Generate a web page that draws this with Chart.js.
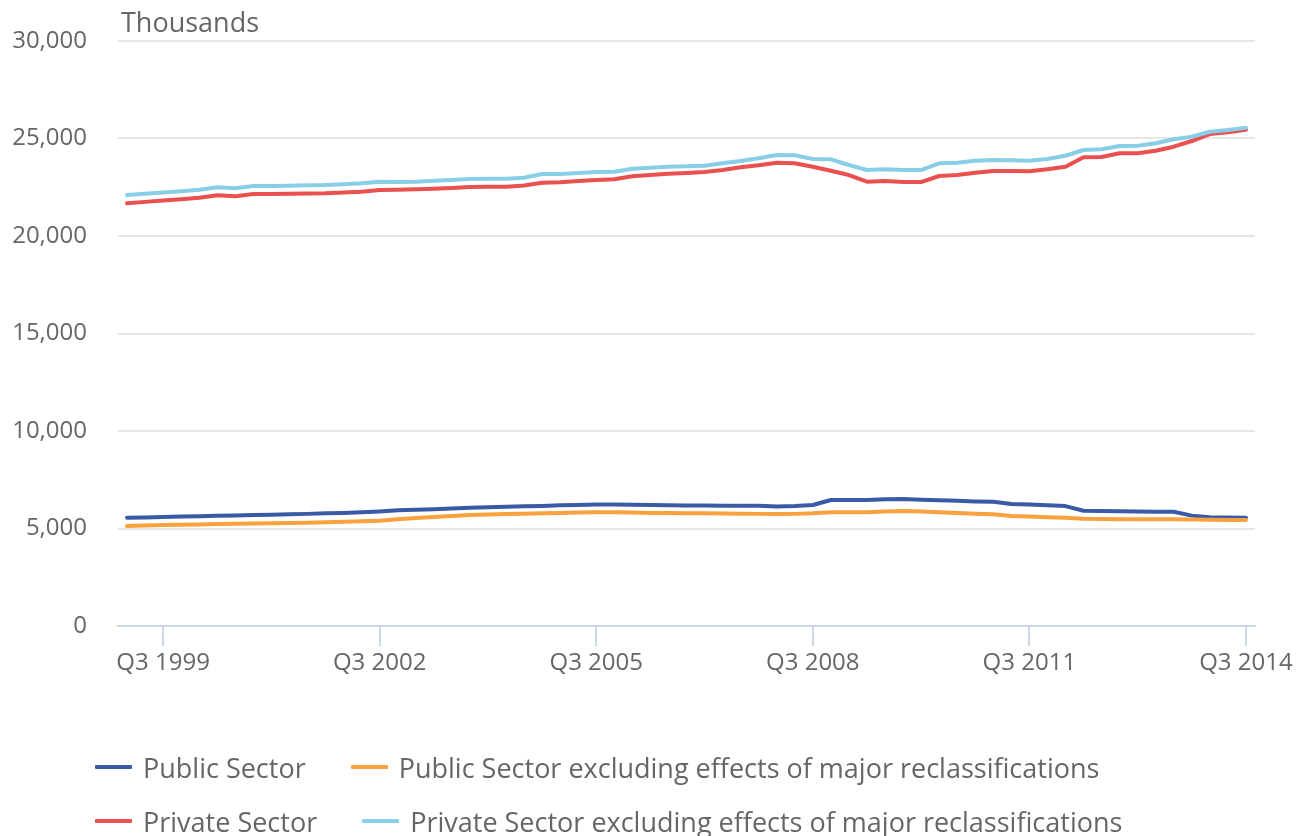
<!DOCTYPE html>
<html>
<head>
<meta charset="utf-8">
<title>Public and private sector employment</title>
<script src="https://cdn.jsdelivr.net/npm/chart.js@4"></script>
<style>
  body { margin: 0; background: #fff; }
  #wrap { position: relative; width: 1296px; height: 836px; }
  #chart { position: absolute; left: 0; top: 0; }
  .legend-row { position: absolute; left: 95px; height: 30px; display: flex; align-items: center;
    font-family: "Open Sans", sans-serif; font-size: 27px; color: #666; white-space: nowrap; }
  .legend-item { display: flex; align-items: center; margin-right: 45px; }
  .legend-line { display: inline-block; width: 37px; height: 4px; margin-right: 11px; border-radius: 1px; }
</style>
</head>
<body>
<div id="wrap">
  <canvas id="chart" width="1296" height="836"></canvas>
  <div class="legend-row" id="row1" style="top:752px"></div>
  <div class="legend-row" id="row2" style="top:806px"></div>
</div>
<script>
const quarters = [
  'Q1 1999', 'Q2 1999', 'Q3 1999', 'Q4 1999',
  'Q1 2000', 'Q2 2000', 'Q3 2000', 'Q4 2000',
  'Q1 2001', 'Q2 2001', 'Q3 2001', 'Q4 2001',
  'Q1 2002', 'Q2 2002', 'Q3 2002', 'Q4 2002',
  'Q1 2003', 'Q2 2003', 'Q3 2003', 'Q4 2003',
  'Q1 2004', 'Q2 2004', 'Q3 2004', 'Q4 2004',
  'Q1 2005', 'Q2 2005', 'Q3 2005', 'Q4 2005',
  'Q1 2006', 'Q2 2006', 'Q3 2006', 'Q4 2006',
  'Q1 2007', 'Q2 2007', 'Q3 2007', 'Q4 2007',
  'Q1 2008', 'Q2 2008', 'Q3 2008', 'Q4 2008',
  'Q1 2009', 'Q2 2009', 'Q3 2009', 'Q4 2009',
  'Q1 2010', 'Q2 2010', 'Q3 2010', 'Q4 2010',
  'Q1 2011', 'Q2 2011', 'Q3 2011', 'Q4 2011',
  'Q1 2012', 'Q2 2012', 'Q3 2012', 'Q4 2012',
  'Q1 2013', 'Q2 2013', 'Q3 2013', 'Q4 2013',
  'Q1 2014', 'Q2 2014', 'Q3 2014'
];

// labelled quarters on the x axis
const xTickLabels = ['Q3 1999', 'Q3 2002', 'Q3 2005', 'Q3 2008', 'Q3 2011', 'Q3 2014'];
const yTicks = [0, 5000, 10000, 15000, 20000, 25000, 30000];

// employment, thousands
const publicSector = [
  5554, 5570, 5590, 5610, 5630, 5650, 5670, 5690, 5710, 5730, 5750, 5779,
  5800, 5830, 5870, 5930, 5960, 5990, 6025, 6060, 6090, 6110, 6140, 6160,
  6190, 6210, 6230, 6230, 6215, 6200, 6190, 6180, 6175, 6170, 6170, 6169,
  6130, 6150, 6205, 6461, 6461, 6461, 6500, 6510, 6480, 6455, 6420, 6390,
  6370, 6260, 6225, 6190, 6150, 5910, 5895, 5880, 5870, 5860, 5860, 5660,
  5575, 5560, 5555
];
const publicExReclass = [
  5128, 5150, 5179, 5195, 5210, 5225, 5240, 5255, 5270, 5285, 5300, 5318,
  5340, 5370, 5400, 5480, 5540, 5590, 5640, 5690, 5720, 5740, 5760, 5779,
  5800, 5820, 5830, 5830, 5815, 5800, 5790, 5785, 5779, 5770, 5760, 5750,
  5743, 5750, 5779, 5830, 5830, 5830, 5870, 5897, 5870, 5830, 5790, 5760,
  5728, 5641, 5610, 5580, 5554, 5502, 5490, 5480, 5475, 5472, 5472, 5460,
  5450, 5440, 5436
];
const privateSector = [
  21676, 21750, 21820, 21880, 21960, 22086, 22035, 22153, 22160, 22170, 22180, 22188,
  22230, 22271, 22358, 22370, 22394, 22425, 22460, 22512, 22527, 22527, 22589, 22733,
  22753, 22820, 22871, 22907, 23061, 23128, 23194, 23230, 23281, 23384, 23522, 23625,
  23758, 23728, 23553, 23348, 23128, 22784, 22820, 22768, 22768, 23076, 23128, 23246,
  23333, 23333, 23317, 23420, 23553, 24035, 24050, 24240, 24240, 24374, 24579, 24871,
  25230, 25317, 25450
];
const privateExReclass = [
  22100, 22170, 22230, 22290, 22370, 22497, 22446, 22560, 22570, 22580, 22600, 22615,
  22660, 22700, 22785, 22770, 22785, 22836, 22870, 22922, 22937, 22937, 22989, 23179,
  23179, 23230, 23281, 23297, 23451, 23502, 23553, 23574, 23605, 23728, 23846, 23984,
  24153, 24138, 23948, 23932, 23640, 23384, 23420, 23384, 23384, 23728, 23758, 23861,
  23897, 23881, 23861, 23948, 24117, 24409, 24445, 24614, 24630, 24753, 24958, 25091,
  25348, 25435, 25553
];

const seriesNames = [
  'Public Sector',
  'Public Sector excluding effects of major reclassifications',
  'Private Sector',
  'Private Sector excluding effects of major reclassifications'
];
const seriesColors = ['#3a5aa5', '#f9a03f', '#e9504f', '#87cee6'];
const seriesValues = [publicSector, publicExReclass, privateSector, privateExReclass];

const font = '"Open Sans", sans-serif';
const textColor = '#666666';
const tickIndex = xTickLabels.map(q => quarters.indexOf(q));

const datasets = seriesValues.map((values, k) => ({
  label: seriesNames[k],
  data: values.map((v, i) => ({ x: i, y: v })),
  borderColor: seriesColors[k],
  backgroundColor: seriesColors[k],
  borderWidth: 4,
  pointRadius: 0,
  tension: 0,
  borderJoinStyle: 'round',
  borderCapStyle: 'round',
  order: 4 - k   // later series sit on top
}));

// unit caption above the plot
const unitLabel = {
  id: 'unitLabel',
  afterDraw(chart) {
    const { ctx, chartArea } = chart;
    ctx.save();
    ctx.font = '27px ' + font;
    ctx.fillStyle = textColor;
    ctx.textBaseline = 'alphabetic';
    ctx.textAlign = 'left';
    ctx.fillText('Thousands', chartArea.left + 3, 32);
    ctx.restore();
  }
};

const chart = new Chart(document.getElementById('chart'), {
  type: 'line',
  data: { datasets },
  options: {
    responsive: false,
    animation: false,
    layout: { padding: { top: 41, right: 41, bottom: 150, left: 0 } },
    plugins: { legend: { display: false }, tooltip: { enabled: false } },
    scales: {
      x: {
        type: 'linear',
        min: -0.5,
        max: 62.5,
        afterBuildTicks: s => { s.ticks = tickIndex.map(v => ({ value: v })); },
        afterFit: s => { s.height = 60; },
        grid: { drawOnChartArea: false, drawTicks: true, tickLength: 20, color: '#ccd6eb', lineWidth: 2 },
        border: { display: true, color: '#ccd6eb', width: 2 },
        ticks: {
          autoSkip: false, maxRotation: 0, padding: 3,
          color: textColor, font: { family: font, size: 24 },
          callback: v => quarters[v] ?? ''
        }
      },
      y: {
        min: 0,
        max: 30000,
        afterBuildTicks: s => { s.ticks = yTicks.map(v => ({ value: v })); },
        afterFit: s => { s.width = 118; },
        grid: {
          // invisible tick marks leave the gap between labels and plot
          drawTicks: true,
          tickLength: 31,
          tickColor: 'rgba(0,0,0,0)',
          lineWidth: 2,
          color: c => c.tick && c.tick.value === 0 ? 'rgba(0,0,0,0)' : '#e6e6e6'
        },
        border: { display: false },
        ticks: {
          padding: 0,
          color: textColor, font: { family: font, size: 24 },
          callback: v => v.toLocaleString('en-US')
        }
      }
    }
  },
  plugins: [unitLabel]
});

// two-row legend under the plot
const rows = [document.getElementById('row1'), document.getElementById('row2')];
chart.data.datasets.forEach((ds, k) => {
  const item = document.createElement('div');
  item.className = 'legend-item';
  const line = document.createElement('span');
  line.className = 'legend-line';
  line.style.background = ds.borderColor;
  const txt = document.createElement('span');
  txt.textContent = ds.label;
  item.appendChild(line);
  item.appendChild(txt);
  rows[k < 2 ? 0 : 1].appendChild(item);
});
</script>
</body>
</html>
